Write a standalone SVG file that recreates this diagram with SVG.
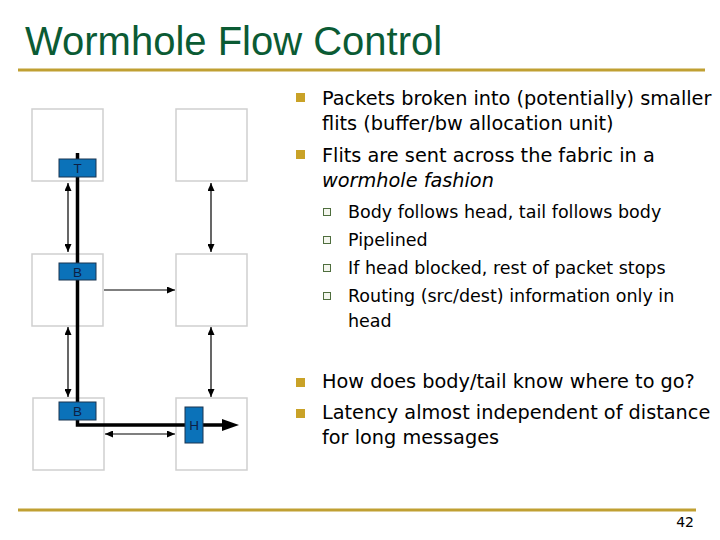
<svg xmlns="http://www.w3.org/2000/svg" width="720" height="540" viewBox="0 0 720 540">
<style>
.box{fill:#fff;stroke:#cfcfcf;stroke-width:1.5}
.flit{fill:#0b72b9;stroke:#1b3550;stroke-width:1}
.fl{font-family:"Liberation Sans",Arial,sans-serif;font-size:13.5px;fill:#0d1f45;text-anchor:middle}
.thin{stroke:#000;stroke-width:1.2;fill:none}
.t1{font-family:"DejaVu Sans",Verdana,sans-serif;font-size:19.3px;fill:#000}
.t2{font-family:"DejaVu Sans",Verdana,sans-serif;font-size:17.5px;fill:#000}
.b1{fill:#c9a227}
.b2{fill:#f4f6ee;stroke:#4f6e3e;stroke-width:1}
.rule{stroke:#c0a032;stroke-width:3}
</style>
<defs>
<marker id="ah" markerUnits="userSpaceOnUse" markerWidth="9" markerHeight="7" refX="8" refY="3.5" orient="auto-start-reverse">
<path d="M0,0 L8,3.5 L0,7 z" fill="#000"/>
</marker>
</defs>
<rect width="720" height="540" fill="#fff"/>
<text x="25" y="55" font-family="Liberation Sans,Arial,sans-serif" font-size="40" fill="#0b5b34">Wormhole Flow Control</text>
<line class="rule" x1="18" y1="70" x2="705" y2="70"/>
<line class="rule" x1="18" y1="510" x2="696" y2="510"/>
<text x="694" y="527" font-family="DejaVu Sans,Verdana,sans-serif" font-size="14" text-anchor="end">42</text>

<g id="router-tl"><rect class="box" x="32" y="109" width="71" height="72"/></g>
<g id="router-tr"><rect class="box" x="176" y="109" width="71" height="72"/></g>
<g id="router-ml"><rect class="box" x="32" y="254" width="71" height="72"/></g>
<g id="router-mr"><rect class="box" x="176" y="254" width="71" height="72"/></g>
<g id="router-bl"><rect class="box" x="33" y="398" width="71" height="72"/></g>
<g id="router-br"><rect class="box" x="176" y="398" width="71" height="72"/></g>

<g id="connectors">
<line class="thin" x1="68" y1="183" x2="68" y2="252" marker-start="url(#ah)" marker-end="url(#ah)"/>
<line class="thin" x1="211" y1="183" x2="211" y2="252" marker-start="url(#ah)" marker-end="url(#ah)"/>
<line class="thin" x1="104" y1="290" x2="175" y2="290" marker-end="url(#ah)"/>
<line class="thin" x1="68" y1="327" x2="68" y2="397" marker-start="url(#ah)" marker-end="url(#ah)"/>
<line class="thin" x1="211" y1="327" x2="211" y2="397" marker-start="url(#ah)" marker-end="url(#ah)"/>
<line class="thin" x1="105" y1="434" x2="175" y2="434" marker-start="url(#ah)" marker-end="url(#ah)"/>
<path d="M77.5,153 V425 H223" fill="none" stroke="#000" stroke-width="3.5"/>
<path d="M222,419 L239,425 L222,431 z" fill="#000"/>
</g>

<g id="flit-t"><rect class="flit" x="59" y="159" width="37" height="18"/><text class="fl" x="77.5" y="173">T</text></g>
<g id="flit-b1"><rect class="flit" x="59" y="263" width="37" height="17"/><text class="fl" x="77.5" y="276.5">B</text></g>
<g id="flit-b2"><rect class="flit" x="59" y="402" width="37" height="18"/><text class="fl" x="77.5" y="416">B</text></g>
<g id="flit-h"><rect class="flit" x="185" y="407" width="18" height="36"/><text class="fl" x="194" y="430">H</text></g>

<g id="text">
<rect class="b1" x="296" y="93" width="9" height="9"/>
<text class="t1" x="322" y="105">Packets broken into (potentially) smaller</text>
<text class="t1" x="322" y="130">flits (buffer/bw allocation unit)</text>
<rect class="b1" x="296" y="150" width="9" height="9"/>
<text class="t1" x="322" y="162">Flits are sent across the fabric in a</text>
<text class="t1" x="322" y="187" font-style="italic">wormhole fashion</text>

<rect class="b2" x="323.5" y="208.5" width="7" height="7"/>
<text class="t2" x="348" y="218">Body follows head, tail follows body</text>
<rect class="b2" x="323.5" y="236.5" width="7" height="7"/>
<text class="t2" x="348" y="246">Pipelined</text>
<rect class="b2" x="323.5" y="264.5" width="7" height="7"/>
<text class="t2" x="348" y="274">If head blocked, rest of packet stops</text>
<rect class="b2" x="323.5" y="292.5" width="7" height="7"/>
<text class="t2" x="348" y="302">Routing (src/dest) information only in</text>
<text class="t2" x="348" y="327">head</text>

<rect class="b1" x="296" y="378" width="9" height="9"/>
<text class="t1" x="322" y="388">How does body/tail know where to go?</text>
<rect class="b1" x="296" y="409" width="9" height="9"/>
<text class="t1" x="322" y="419">Latency almost independent of distance</text>
<text class="t1" x="322" y="444">for long messages</text>
</g>
</svg>
